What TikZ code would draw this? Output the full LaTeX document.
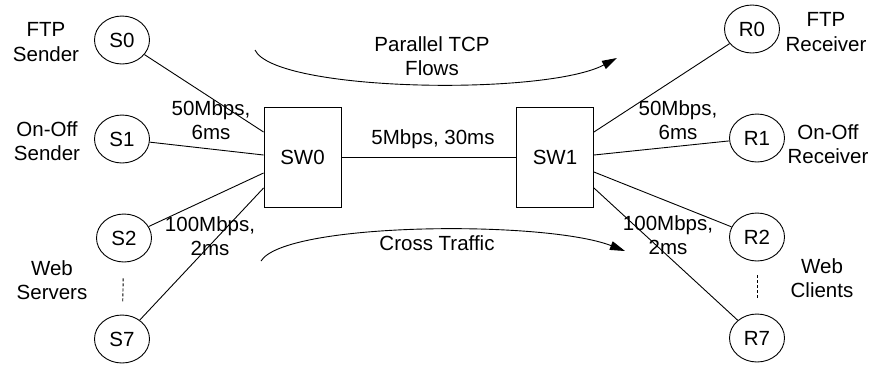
\documentclass[tikz,border=0pt]{standalone}
\usepackage{fontspec}
\setmainfont{Liberation Sans}
\usetikzlibrary{arrows.meta}
\usetikzlibrary{shapes.geometric}

\begin{document}
\begin{tikzpicture}[x=1pt,y=-1pt]
\tikzstyle{every node}=[font=\fontsize{20.5}{24.5}\selectfont, align=center]
\tikzstyle{host}=[draw, ellipse, minimum width=55pt, minimum height=48pt, inner sep=0pt, line width=0.9pt]
\tikzstyle{switch}=[draw, rectangle, minimum width=77pt, minimum height=100pt, line width=0.9pt]
\tikzstyle{link}=[line width=0.9pt]
\tikzstyle{flow}=[line width=0.9pt, -{Triangle[length=15pt,width=9pt]}]
\useasboundingbox (0,0) rectangle (875,368);
% hosts
\node [host] (S0) at (122,40) {S0};
\node [host] (S1) at (122,139) {S1};
\node [host] (S2) at (124,238) {S2};
\node [host] (S7) at (122,339) {S7};
\node [host] (R0) at (752,29) {R0};
\node [host] (R1) at (757,138) {R1};
\node [host] (R2) at (757,237) {R2};
\node [host] (R7) at (757,338) {R7};
% switches
\node [switch] (SW0) at (302.5,157) {SW0};
\node [switch] (SW1) at (555,157) {SW1};
% host labels
\node (ftps) at (46,42) {FTP\\Sender};
\node (onoffs) at (47,141) {On-Off\\Sender};
\node (webs) at (52,280) {Web\\Servers};
\node (ftpr) at (826,32) {FTP\\Receiver};
\node (onoffr) at (828,144) {On-Off\\Receiver};
\node (webr) at (822,278) {Web\\Clients};
% ports
\coordinate (a0) at ([yshift=25pt]SW0.west);
\coordinate (a1) at ([yshift=2pt]SW0.west);
\coordinate (a2) at ([yshift=-16pt]SW0.west);
\coordinate (a7) at ([yshift=-31pt]SW0.west);
\coordinate (b0) at ([yshift=25pt]SW1.east);
\coordinate (b1) at ([yshift=2pt]SW1.east);
\coordinate (b2) at ([yshift=-15pt]SW1.east);
\coordinate (b7) at ([yshift=-31pt]SW1.east);
% links
\draw [link] (S0) -- (a0);
\draw [link] (S1) -- (a1);
\draw [link] (S2) -- (a2);
\draw [link] (S7) -- (a7);
\draw [link] (R0) -- (b0);
\draw [link] (R1) -- (b1);
\draw [link] (R2) -- (b2);
\draw [link] (R7) -- (b7);
\draw [link] (SW0) -- (SW1);
\draw [link, densely dashed, shorten <=16pt, shorten >=12pt] (S2) -- (S7);
\draw [link, densely dashed, shorten <=14pt, shorten >=14pt] (R2) -- (R7);
% link labels
\node (bott) at (433,139) {5Mbps, 30ms};
\node (ls0) at (211,120) {50Mbps,\\6ms};
\node (ls2) at (210,236) {100Mbps,\\2ms};
\node (lr0) at (678,120) {50Mbps,\\6ms};
\node (lr2) at (668,235) {100Mbps,\\2ms};
% flows
\coordinate (f0) at (255,50);
\coordinate (f1) at (617,58);
\coordinate (c0) at (261,261);
\coordinate (c1) at (625,251);
\draw [flow] (f0) .. controls (275,92) and (545,96) .. (f1);
\draw [flow] (c0) .. controls (285,222) and (545,220) .. (c1);
\node (ptcp) at (432,56) {Parallel TCP\\Flows};
\node (cross) at (437,243) {Cross Traffic};
\end{tikzpicture}
\end{document}
